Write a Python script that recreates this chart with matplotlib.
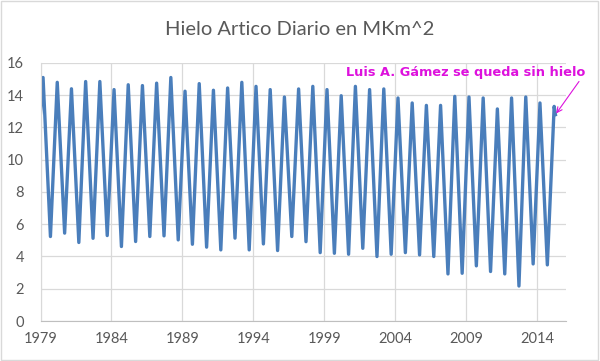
import matplotlib.pyplot as plt
import numpy as np

# annual peak (March) and trough (September) values, MKm^2
years = list(range(1979, 2016))
peaks = [15.1, 14.8, 14.4, 14.85, 14.85, 14.35, 14.65, 14.6, 14.75, 15.1,
         14.25, 14.72, 14.31, 14.45, 14.8, 14.55, 14.35, 13.89, 14.39, 14.55,
         14.35, 13.97, 14.55, 14.35, 14.39, 13.83, 13.52, 13.37, 13.37, 13.93,
         13.89, 13.83, 13.15, 13.83, 13.89, 13.52, 13.31]
troughs = [5.24, 5.45, 4.87, 5.13, 5.3, 4.62, 4.93, 5.24, 5.28, 5.03,
           4.76, 4.58, 4.41, 5.14, 4.41, 4.78, 4.37, 5.24, 4.92, 4.24,
           4.2, 4.14, 4.51, 4.0, 4.14, 4.24, 4.1, 4.0, 2.92, 2.96,
           3.42, 3.07, 2.92, 2.17, 3.54, 3.48]
start_val = 12.9   # 1 Jan 1979
end_val = 12.8     # last day of the series (spring 2015)
end_t = 2015.27

x = [1979.0]
y = [start_val]
for i, yr in enumerate(years):
    x.append(yr + 0.18)
    y.append(peaks[i])
    if i < len(troughs):
        x.append(yr + 0.7)
        y.append(troughs[i])
x.append(end_t)
y.append(end_val)

grey = '#595959'
fig = plt.figure(figsize=(6, 3.61), dpi=100)
ax = fig.add_axes([0.0675, 0.1108, 0.8755, 0.7147])

ax.plot(x, y, color='#4A7EBB', lw=2.4, solid_joinstyle='round')

ax.set_xlim(1979, 2016)
ax.set_ylim(0, 16)
ax.set_yticks(np.arange(0, 17, 2))
ax.set_xticks(np.arange(1979, 2015, 5))
ax.grid(True, color='#D9D9D9', lw=0.9)
ax.set_axisbelow(True)
ax.tick_params(length=0, labelsize=10.5, labelcolor=grey)
ax.tick_params(axis='y', pad=12)
ax.tick_params(axis='x', pad=8)
for lab in ax.get_xticklabels() + ax.get_yticklabels():
    lab.set_family('Lato')
for s in ['top', 'right']:
    ax.spines[s].set_visible(False)
ax.spines['left'].set_color('#D9D9D9')
ax.spines['bottom'].set_color('#BFBFBF')

fig.text(0.5, 0.917, 'Hielo Artico Diario en MKm^2', ha='center', va='center',
         fontsize=14.5, color=grey, family='Lato')

ax.annotate('Luis A. Gámez se queda sin hielo', xy=(end_t, end_val),
            xytext=(0.976, 0.8), textcoords='figure fraction',
            ha='right', va='center', fontsize=9.3, fontweight='bold',
            color='#DD11DD', family='DejaVu Sans',
            arrowprops=dict(arrowstyle='->', color='#DD11DD', lw=0.8,
                            shrinkA=0, shrinkB=1,
                            relpos=(1.0, 0.5)))

# chart area border
fig.patches.append(plt.Rectangle((0.002, 0.003), 0.995, 0.993,
                                 transform=fig.transFigure, fill=False,
                                 edgecolor='#D9D9D9', lw=1))

fig.savefig('out.png', dpi=100)
